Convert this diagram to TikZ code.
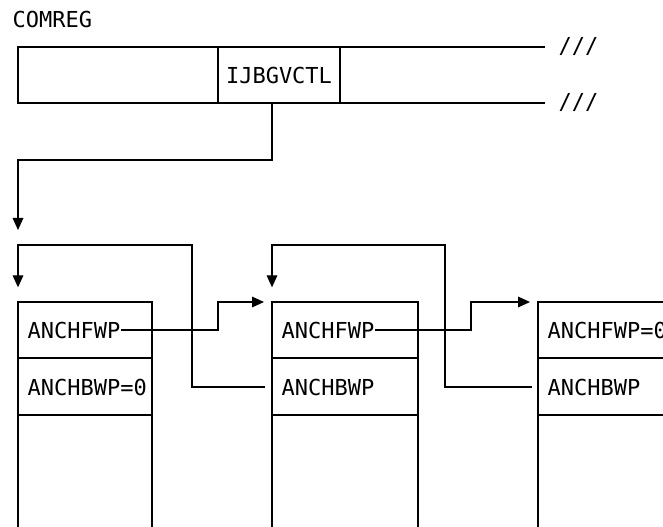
\documentclass[tikz,border=0pt]{standalone}
\usepackage{fontspec}
\setmonofont{DejaVu Sans Mono}
\usetikzlibrary{arrows.meta}

\begin{document}
\begin{tikzpicture}[x=0.75pt, y=-0.75pt, line width=0.9pt,
    lbl/.style={inner sep=0pt, font=\ttfamily\fontsize{16.5}{20}\selectfont},
    ptr/.style={-{Triangle[length=9pt, width=8pt]}}]
  \useasboundingbox (0,0) rectangle (663,527);
  \clip (0,0) rectangle (663,527);
  % COMREG with its open-ended field
  \node[lbl, anchor=base west] (comreg) at (12,28) {COMREG};
  \draw (545,47) -- (18,47) -- (18,103) -- (545,103);
  \draw (218,47) -- (218,103) (340,47) -- (340,103);
  \node[lbl] (ctl) at (279,75) {IJBGVCTL};
  \node[lbl, anchor=west] (cut1) at (558,47) {///};
  \node[lbl, anchor=west] (cut2) at (558,103) {///};
  % Anchor blocks (three entries of the chain)
  \coordinate (blk1) at (18,302);
  \coordinate (blk2) at (272,302);
  \coordinate (blk3) at (538,302);
  \draw (18,302) rectangle (152,528) (18,358) -- (152,358) (18,415) -- (152,415);
  \draw (272,302) rectangle (418,528) (272,358) -- (418,358) (272,415) -- (418,415);
  \draw (538,302) rectangle (700,528) (538,358) -- (700,358) (538,415) -- (700,415);
  \node[lbl, anchor=base west] (fwp1) at (27,338) {ANCHFWP};
  \node[lbl, anchor=base west] (bwp1) at (27,395) {ANCHBWP=0};
  \node[lbl, anchor=base west] (fwp2) at (281,338) {ANCHFWP};
  \node[lbl, anchor=base west] (bwp2) at (281,395) {ANCHBWP};
  \node[lbl, anchor=base west] (fwp3) at (547,338) {ANCHFWP=0};
  \node[lbl, anchor=base west] (bwp3) at (547,395) {ANCHBWP};
  % Pointer from IJBGVCTL to the first block
  \coordinate (ctlout) at (272,103);
  \draw[ptr] (ctlout) |- (18,160) -- ([yshift=54pt]blk1);
  % Forward pointers
  \draw[ptr] (fwp1.east) -| (218,302) -- ([xshift=-6pt]blk2);
  \draw[ptr] (fwp2.east) -| (471,302) -- ([xshift=-6pt]blk3);
  % Backward pointers
  \draw[ptr] (265,387) -| (192,245) -| ([yshift=11pt]blk1);
  \draw[ptr] (532,387) -| (445,245) -| ([yshift=11pt]blk2);
\end{tikzpicture}
\end{document}
